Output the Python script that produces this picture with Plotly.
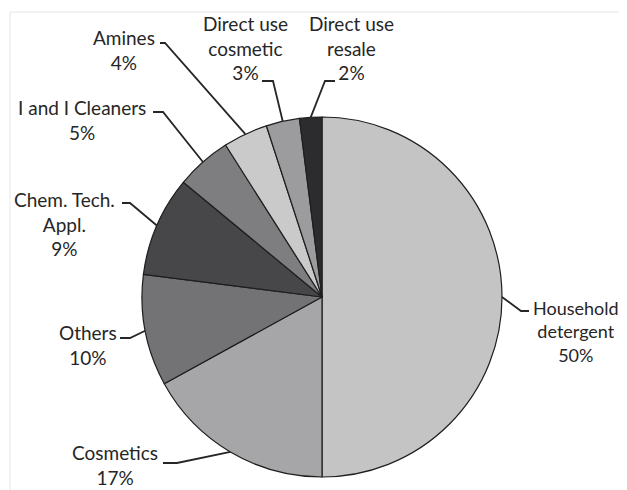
import math
import plotly.graph_objects as go

# ---- data ----
categories = ["Household<br>detergent", "Cosmetics", "Others", "Chem. Tech.<br>Appl.",
              "I and I Cleaners", "Amines", "Direct use<br>cosmetic", "Direct use<br>resale"]
values = [50, 17, 10, 9, 5, 4, 3, 2]
slice_colors = ["#c4c4c4", "#a6a6a8", "#737375", "#47474a", "#7e7e80", "#cacaca", "#9c9c9e", "#2c2c2e"]

# ---- layout (pixels in the 627x490 page) ----
PAGE_OFF = 8           # default body margin of the html page
W, H = 627 - PAGE_OFF, 490 - PAGE_OFF
CX, CY, R = 322, 297, 180
# label block centres, font sizes, leader start (at text) and elbow points
label_pos = [(576, 331), (115, 465), (88, 345), (64, 224), (82, 120), (124, 50), (245, 48), (351, 48)]
label_size = [18, 19, 19, 19, 19, 19, 19, 19]
leader_start = [(529, 311), (163, 463), (120, 338), (122, 203), (153, 112), (160, 43), (262, 81), (335, 81)]
leader_elbow = [(521, 311), (177, 463), (130, 338), (130, 203), (163, 112), (165, 43), (273, 81), (325, 81)]

def px(x):
    return (x - PAGE_OFF) / W

def py(y):
    return 1 - (y - PAGE_OFF) / H

fig = go.Figure(go.Pie(
    labels=categories,
    values=values,
    sort=False,
    direction="clockwise",
    rotation=0,
    textinfo="none",
    hoverinfo="label+percent",
    marker=dict(colors=slice_colors, line=dict(color="#1e1e1e", width=1.2)),
    domain=dict(x=[px(CX - R), px(CX + R)], y=[py(CY + R), py(CY - R)]),
    showlegend=False,
))

total = sum(values)
cum = 0
shapes = []
annotations = []
for i, v in enumerate(values):
    mid = (cum + v / 2) / total
    cum += v
    ang = 2 * math.pi * mid
    ex = CX + R * math.sin(ang)
    ey = CY - R * math.cos(ang)
    sx, sy = leader_start[i]
    bx, by = leader_elbow[i]
    path = f"M {px(sx)} {py(sy)} L {px(bx)} {py(by)} L {px(ex)} {py(ey)}"
    shapes.append(dict(type="path", xref="paper", yref="paper", path=path,
                       line=dict(color="#262626", width=1.8)))
    lx, ly = label_pos[i]
    annotations.append(dict(x=px(lx), y=py(ly), xref="paper", yref="paper",
                            text=f"{categories[i]}<br>{v}%", showarrow=False,
                            xanchor="center", yanchor="middle", align="center",
                            font=dict(family="Lato", size=label_size[i], color="#262626")))

# faint frame
shapes.append(dict(type="rect", xref="paper", yref="paper", x0=px(10), x1=px(620),
                   y0=py(500), y1=py(12), line=dict(color="#e6e6e6", width=1), layer="below"))

fig.update_layout(
    width=W, height=H,
    margin=dict(l=0, r=0, t=0, b=0),
    paper_bgcolor="white",
    plot_bgcolor="white",
    shapes=shapes,
    annotations=annotations,
)

fig.write_html("out.html")
